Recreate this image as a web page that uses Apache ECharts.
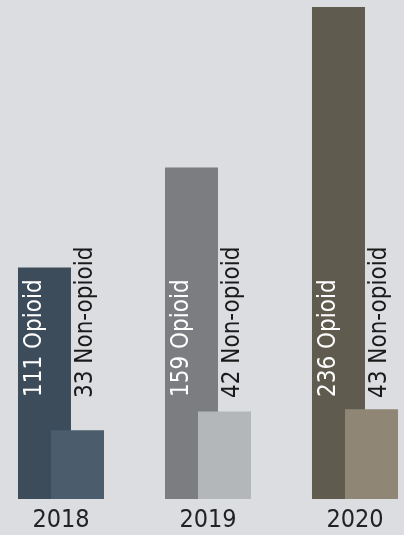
<!DOCTYPE html>
<html>
<head>
<meta charset="utf-8">
<script src="https://cdn.jsdelivr.net/npm/echarts@6/dist/echarts.min.js"></script>
<style>
  html, body { margin: 0; padding: 0; background: #dcdde0; }
  #main { width: 404px; height: 535px; }
</style>
</head>
<body>
<div id="main"></div>
<script>
var years = ['2018', '2019', '2020'];
var opioid = [111, 159, 236];
var nonOpioid = [33, 42, 43];
var opioidColors = ['#3d4c5b', '#7c7d80', '#5f5b4e'];
var nonOpioidColors = ['#4b5d6c', '#b4b7b9', '#8f8676'];

var font = "'DejaVu Sans Condensed', 'Liberation Sans Narrow', Roboto, sans-serif";
var myChart = echarts.init(document.getElementById('main'));

var option = {
    backgroundColor: '#dcdde0',
    animation: false,
    grid: { left: -12.5, width: 441, top: 7, bottom: 36, outerBoundsMode: 'none', containLabel: false },
    xAxis: {
        type: 'category',
        data: years,
        axisLine: { show: false },
        axisTick: { show: false },
        axisLabel: {
            color: '#222',
            fontFamily: font,
            fontSize: 25,
            margin: 9
        }
    },
    yAxis: {
        type: 'value',
        min: 0,
        max: 236,
        show: false,
        splitLine: { show: false }
    },
    series: [
        {
            name: 'Opioid',
            type: 'bar',
            data: opioid,
            barWidth: 53,
            barGap: '-37.7%',
            itemStyle: {
                color: function (p) { return opioidColors[p.dataIndex]; }
            },
            label: {
                show: true,
                position: 'insideBottom',
                distance: 102,
                rotate: 90,
                align: 'left',
                verticalAlign: 'middle',
                offset: [0, -10],
                color: '#fff',
                fontFamily: font,
                fontSize: 24,
                formatter: '{c} Opioid'
            }
        },
        {
            name: 'Non-opioid',
            type: 'bar',
            data: nonOpioid,
            barWidth: 53,
            itemStyle: {
                color: function (p) { return nonOpioidColors[p.dataIndex]; }
            },
            label: {
                show: true,
                position: 'insideBottom',
                distance: 101,
                rotate: 90,
                align: 'left',
                verticalAlign: 'middle',
                offset: [0, 8],
                color: '#1a1a1a',
                fontFamily: font,
                fontSize: 24,
                formatter: '{c} Non-opioid'
            }
        }
    ]
};
myChart.setOption(option);
</script>
</body>
</html>
